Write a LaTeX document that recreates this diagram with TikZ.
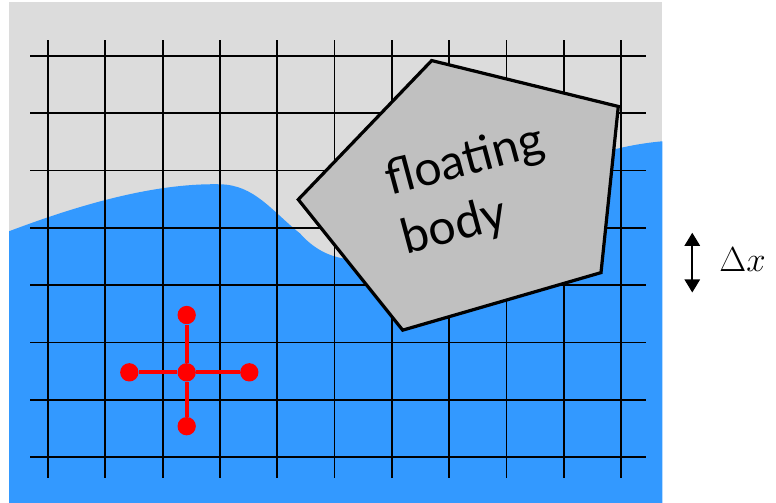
\documentclass[tikz,border=0pt]{standalone}
\usepackage{fontspec}
\newfontfamily\labelfont{Lato}
\usetikzlibrary{arrows.meta, positioning}
\definecolor{bggrey}{HTML}{DCDCDC}
\definecolor{water}{HTML}{3399FF}
\definecolor{hull}{HTML}{C0C0C0}
\definecolor{stencil}{HTML}{FF0000}

\begin{document}
\begin{tikzpicture}[
  gridline/.style={line width=0.9pt,black},
  hullbox/.style={draw=black,line width=1.6pt,fill=hull,line join=miter},
  stdot/.style={circle,fill=stencil,minimum size=0.32cm,inner sep=0pt},
  stlink/.style={stencil,line width=2pt},
  dxarrow/.style={{Triangle[width=7.5pt,length=6.5pt]}-{Triangle[width=7.5pt,length=6.5pt]},line width=1.15pt}]
  \useasboundingbox (-0.838,-0.80) rectangle (12.705,7.976);
  % tank and free surface
  \fill[bggrey] (-0.68,-0.80) rectangle (10.72,7.94);
  \fill[water] (-0.68,3.94) .. controls (0.8,4.5) and (2.0,4.78) .. (3.0,4.76)
    .. controls (3.6,4.75) and (3.9,4.3) .. (4.4,3.9)
    .. controls (4.8,3.45) and (5.6,3.0) .. (7.5,4.3)
    .. controls (8.5,4.9) and (9.5,5.4) .. (10.72,5.51)
    -- (10.72,-0.80) -- (-0.68,-0.80) -- cycle;
  % grid
  \foreach \i in {0,...,10} \draw[gridline] (\i,-0.36) -- (\i,7.27);
  \foreach \j in {0,...,7} \draw[gridline] (-0.31,\j) -- (10.44,\j);
  % body
  \draw[hullbox] (6.696,6.919) -- (9.953,6.118) -- (9.651,3.218) -- (6.190,2.214) -- (4.368,4.494) -- cycle;
  \node[rotate=15,align=left,font=\labelfont\fontsize{24}{30}\selectfont] (fb) at (7.42,4.64) {floating\\body};
  % stencil
  \node[stdot] (pc) at (2.42,1.478) {};
  \node[stdot] (pw) at (1.419,1.478) {};
  \node[stdot] (pe) at (3.513,1.478) {};
  \node[stdot] (pn) at (2.42,2.478) {};
  \node[stdot] (ps) at (2.42,0.538) {};
  \draw[stlink] (pw)--(pc); \draw[stlink] (pc)--(pe);
  \draw[stlink] (pn)--(pc); \draw[stlink] (pc)--(ps);
  % grid spacing
  \coordinate (dxtop) at (11.244,3.915);
  \coordinate (dxbot) at (11.244,2.870);
  \draw[dxarrow] (dxtop) -- (dxbot);
  \node[anchor=west,inner sep=0pt,font=\fontsize{18}{20}\selectfont] (dxlabel) at (11.71,3.44) {$\Delta x$};
\end{tikzpicture}
\end{document}
